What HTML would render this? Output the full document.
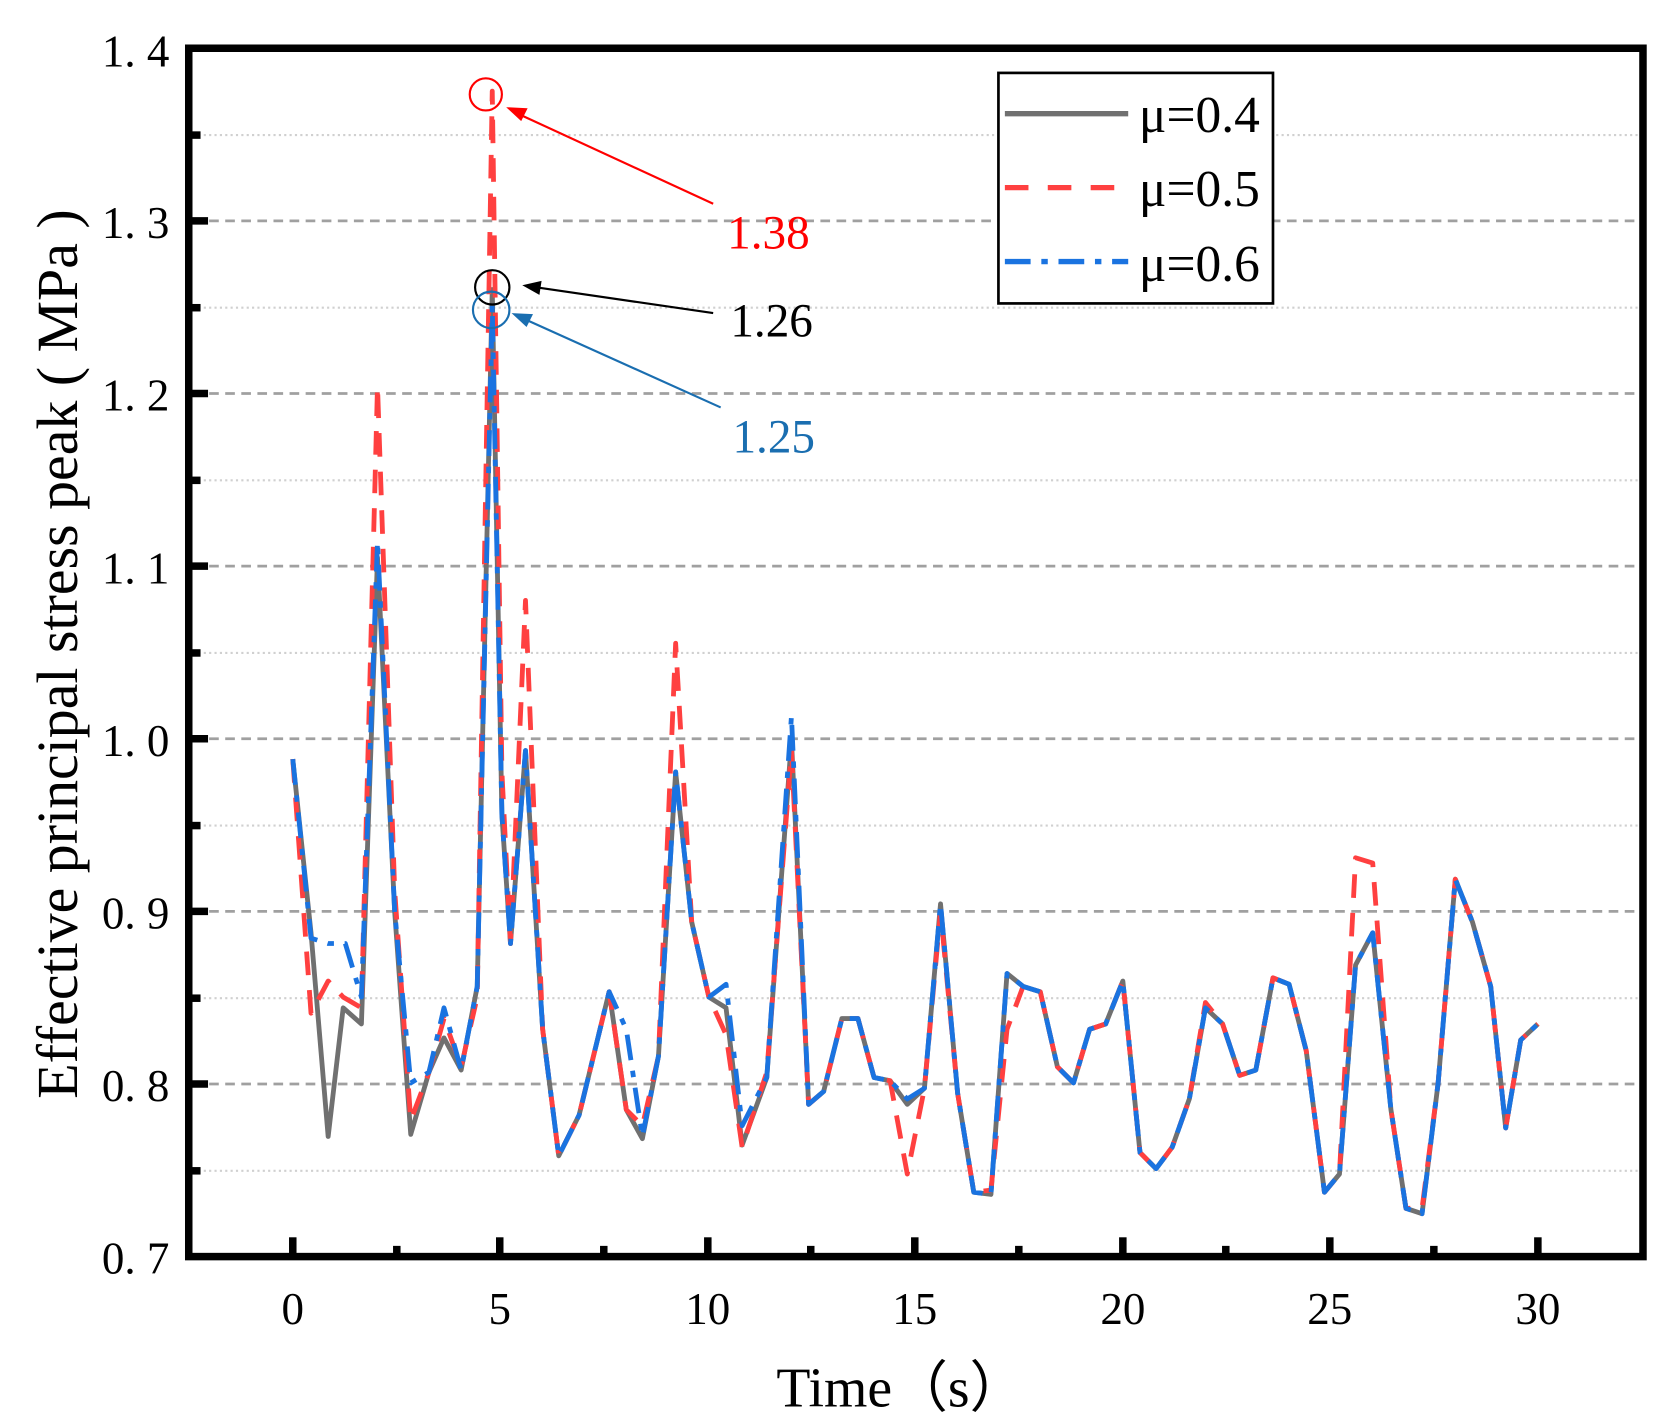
<!DOCTYPE html>
<html><head><meta charset="utf-8"><style>html,body{margin:0;padding:0;background:#fff}svg{display:block}</style></head>
<body>
<svg width="1673" height="1426" viewBox="0 0 1560 1330" preserveAspectRatio="none" xmlns="http://www.w3.org/2000/svg" font-family="Liberation Serif, serif">
<rect width="1560" height="1330" fill="#fff"/>
<g stroke="#d0d0d0" stroke-width="2" stroke-dasharray="2,3">
<line x1="180" x2="1528" y1="126" y2="126"/><line x1="180" x2="1528" y1="287" y2="287"/><line x1="180" x2="1528" y1="448" y2="448"/><line x1="180" x2="1528" y1="609" y2="609"/><line x1="180" x2="1528" y1="770" y2="770"/><line x1="180" x2="1528" y1="931" y2="931"/><line x1="180" x2="1528" y1="1092" y2="1092"/>
</g>
<g stroke="#a0a0a0" stroke-width="2.5" stroke-dasharray="9,6">
<line x1="180" x2="1528" y1="206" y2="206"/><line x1="180" x2="1528" y1="367" y2="367"/><line x1="180" x2="1528" y1="528" y2="528"/><line x1="180" x2="1528" y1="689" y2="689"/><line x1="180" x2="1528" y1="850" y2="850"/><line x1="180" x2="1528" y1="1011" y2="1011"/>
</g>
<g fill="none" stroke-linejoin="round" stroke-width="4.5">
<polyline stroke="#707070" points="273,708 290,870 306,1060 320,940 337,955 352,520 368,850 383,1058 400,1000 414,968 430,998 445,920 459,270 468,760 476,880 490,700 506,960 521,1078 540,1040 568,925 584,1035 599,1062 614,985 630,720 645,860 661,930 677,940 692,1068 715,1005 738,690 754,1030 768,1018 785,950 800,950 815,1005 830,1008 846,1030 862,1015 877,843 893,1020 908,1112 924,1114 939,908 954,920 970,925 986,995 1001,1010 1016,960 1031,955 1047,915 1063,1075 1078,1090 1093,1070 1109,1025 1124,940 1140,955 1156,1003 1171,998 1187,912 1202,918 1218,980 1235,1112 1249,1095 1264,900 1280,870 1297,1035 1311,1127 1326,1132 1341,1010 1357,820 1373,860 1390,920 1404,1052 1418,970 1434,955"/>
<polyline stroke="#ff4040" stroke-dasharray="22,14" points="273,708 290,945 306,915 320,930 337,940 352,360 368,830 383,1045 400,1000 414,950 430,995 445,930 459,85 468,720 476,880 490,560 506,960 521,1078 540,1040 568,925 584,1035 599,1050 614,985 630,600 645,860 661,930 677,965 692,1070 715,1000 738,700 754,1030 768,1018 785,950 800,950 815,1005 830,1008 846,1095 862,1015 877,850 893,1020 908,1112 924,1110 939,960 954,920 970,925 986,995 1001,1010 1016,960 1031,955 1047,915 1063,1075 1078,1090 1093,1070 1109,1025 1124,935 1140,955 1156,1003 1171,998 1187,912 1202,918 1218,980 1235,1112 1249,1095 1264,800 1280,805 1297,1035 1311,1127 1326,1127 1341,1010 1357,820 1373,860 1390,920 1404,1052 1418,970 1434,955"/>
<polyline stroke="#1a73e0" stroke-dasharray="24,10,6,10" points="273,708 290,875 306,880 322,880 337,930 352,505 368,850 383,1010 400,1000 414,940 430,998 445,920 459,285 468,760 476,880 490,700 506,960 521,1078 540,1040 568,925 584,960 599,1060 614,985 630,720 645,860 661,930 677,918 692,1050 715,1005 738,668 754,1030 768,1018 785,950 800,950 815,1005 830,1008 846,1025 862,1015 877,843 893,1020 908,1112 924,1114 939,908 954,920 970,925 986,995 1001,1010 1016,960 1031,955 1047,915 1063,1075 1078,1090 1093,1070 1109,1025 1124,940 1140,955 1156,1003 1171,998 1187,912 1202,918 1218,980 1235,1112 1249,1095 1264,900 1280,870 1297,1035 1311,1127 1326,1132 1341,1010 1357,820 1373,860 1390,920 1404,1052 1418,970 1434,955"/>
</g>
<circle cx="453" cy="88" r="15" fill="none" stroke="#ff0000" stroke-width="2"/>
<circle cx="459" cy="268" r="16" fill="none" stroke="#000" stroke-width="2"/>
<circle cx="458" cy="289" r="17" fill="none" stroke="#1a6eb0" stroke-width="2"/>
<g stroke-width="2">
<line x1="665" y1="190" x2="485" y2="107" stroke="#ff0000"/><polygon points="472,100 492,101 486,113" fill="#ff0000"/>
<line x1="665" y1="292" x2="500" y2="268" stroke="#000"/><polygon points="487,266 505,262 503,275" fill="#000"/>
<line x1="672" y1="380" x2="490" y2="298" stroke="#1a6eb0"/><polygon points="477,292 497,293 491,305" fill="#1a6eb0"/>
</g>
<text x="678" y="232" font-size="44" fill="#ff0000">1.38</text>
<text x="681" y="314" font-size="44" fill="#000">1.26</text>
<text x="683" y="422" font-size="44" fill="#1a6eb0">1.25</text>
<rect x="176" y="45" width="1356" height="1127" fill="none" stroke="#000" stroke-width="7"/>
<g stroke="#000" stroke-width="7">
<line x1="179" x2="194" y1="206" y2="206"/><line x1="179" x2="194" y1="367" y2="367"/><line x1="179" x2="194" y1="528" y2="528"/><line x1="179" x2="194" y1="689" y2="689"/><line x1="179" x2="194" y1="850" y2="850"/><line x1="179" x2="194" y1="1011" y2="1011"/>
<line x1="179" x2="187" y1="126" y2="126"/><line x1="179" x2="187" y1="287" y2="287"/><line x1="179" x2="187" y1="448" y2="448"/><line x1="179" x2="187" y1="609" y2="609"/><line x1="179" x2="187" y1="770" y2="770"/><line x1="179" x2="187" y1="931" y2="931"/><line x1="179" x2="187" y1="1092" y2="1092"/>
<line x1="273" x2="273" y1="1169" y2="1154"/><line x1="466" x2="466" y1="1169" y2="1154"/><line x1="660" x2="660" y1="1169" y2="1154"/><line x1="853" x2="853" y1="1169" y2="1154"/><line x1="1047" x2="1047" y1="1169" y2="1154"/><line x1="1240" x2="1240" y1="1169" y2="1154"/><line x1="1434" x2="1434" y1="1169" y2="1154"/>
<line x1="370" x2="370" y1="1169" y2="1162"/><line x1="563" x2="563" y1="1169" y2="1162"/><line x1="756" x2="756" y1="1169" y2="1162"/><line x1="950" x2="950" y1="1169" y2="1162"/><line x1="1143" x2="1143" y1="1169" y2="1162"/><line x1="1337" x2="1337" y1="1169" y2="1162"/>
</g>
<g font-size="42" text-anchor="end">
<text x="158" y="62">1. 4</text><text x="158" y="222">1. 3</text><text x="158" y="383">1. 2</text><text x="158" y="544">1. 1</text><text x="158" y="705">1. 0</text><text x="158" y="866">0. 9</text><text x="158" y="1027">0. 8</text><text x="158" y="1188">0. 7</text>
</g>
<g font-size="42" text-anchor="middle">
<text x="273" y="1235">0</text><text x="466" y="1235">5</text><text x="660" y="1235">10</text><text x="853" y="1235">15</text><text x="1047" y="1235">20</text><text x="1240" y="1235">25</text><text x="1434" y="1235">30</text>
</g>
<text x="840" y="1312" font-size="52" text-anchor="middle">Time（s）</text>
<text transform="translate(72,610) rotate(-90)" font-size="54" text-anchor="middle">Effective principal stress peak ( MPa )</text>
<rect x="931" y="68" width="256" height="215" fill="#fff" stroke="#000" stroke-width="2.5"/>
<line x1="937" x2="1052" y1="106" y2="106" stroke="#707070" stroke-width="5"/>
<line x1="937" x2="1052" y1="175" y2="175" stroke="#ff4040" stroke-width="5" stroke-dasharray="22,18"/>
<line x1="937" x2="1052" y1="244" y2="244" stroke="#1a73e0" stroke-width="5" stroke-dasharray="24,10,6,10"/>
<g font-size="48"><text x="1062" y="123">μ=0.4</text><text x="1062" y="192">μ=0.5</text><text x="1062" y="262">μ=0.6</text></g>
</svg>
</body></html>
